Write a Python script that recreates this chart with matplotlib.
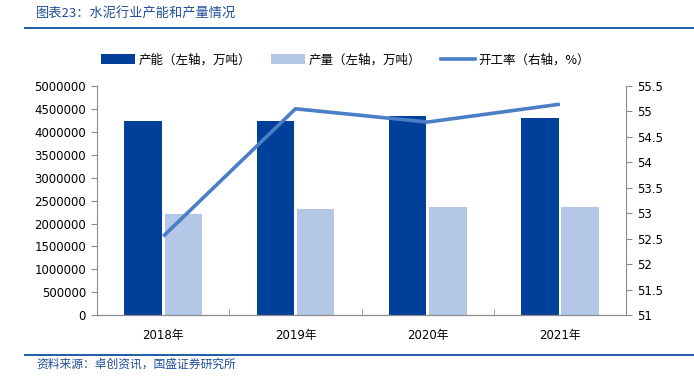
import matplotlib
matplotlib.use("Agg")
import matplotlib.pyplot as plt
from matplotlib.ticker import MultipleLocator, FuncFormatter
from matplotlib.lines import Line2D
from matplotlib.patches import Patch
import numpy as np

plt.rcParams['font.family'] = ['DejaVu Sans', 'Noto Sans CJK SC']

# data
years = ['2018年', '2019年', '2020年', '2021年']
capacity = [4240000, 4240000, 4346000, 4310000]     # 产能 (万吨)
output = [2209000, 2318000, 2368000, 2360000]       # 产量 (万吨)
utilization = [52.55, 55.05, 54.79, 55.14]          # 开工率 (%)

dark_blue = '#00409A'
light_blue = '#B4C7E7'
line_blue = '#4A7EC7'
title_blue = '#1F4E9A'
grey = '#8C8C8C'

fig = plt.figure(figsize=(6.94, 3.85), dpi=100)
ax = fig.add_axes([0.140, 0.181, 0.762, 0.596])
ax2 = ax.twinx()

x = np.arange(len(years))
w = 0.285
ax.bar(x - 0.152, capacity, width=w, color=dark_blue, zorder=2)
ax.bar(x + 0.152, output, width=w, color=light_blue, zorder=2)
ax2.plot(x, utilization, color=line_blue, lw=2.6, solid_capstyle='butt', zorder=3)

ax.set_xlim(-0.5, len(years) - 0.5)
ax.set_ylim(0, 5000000)
ax.yaxis.set_major_locator(MultipleLocator(500000))
ax.yaxis.set_major_formatter(FuncFormatter(lambda v, p: '%d' % v))
ax2.set_ylim(51, 55.5)
ax2.yaxis.set_major_locator(MultipleLocator(0.5))
ax2.yaxis.set_major_formatter(FuncFormatter(lambda v, p: '%g' % v))

ax.set_xticks(x)
ax.set_xticklabels(years)
ax.set_xticks(np.arange(0.5, len(years) - 0.5, 1), minor=True)
ax.tick_params(axis='x', which='major', length=0, pad=10, labelsize=8.5)
ax.tick_params(axis='x', which='minor', direction='in', length=4, color=grey)
ax.tick_params(axis='y', direction='out', length=4, color=grey, labelsize=8.5, pad=4)
ax2.tick_params(axis='y', direction='out', length=4, color=grey, labelsize=8.5, pad=4)

for a in (ax, ax2):
    a.spines['top'].set_visible(False)
    for s in ('left', 'right', 'bottom'):
        a.spines[s].set_color(grey)
ax2.spines['left'].set_visible(False)
ax.spines['right'].set_visible(False)

handles = [
    Patch(facecolor=dark_blue, label='产能（左轴，万吨）'),
    Patch(facecolor=light_blue, label='产量（左轴，万吨）'),
    Line2D([], [], color=line_blue, lw=2.6, label='开工率（右轴，%）'),
]
fig.legend(handles=handles, loc='center', bbox_to_anchor=(0.498, 0.845), ncol=3,
           frameon=False, handlelength=2.7, handleheight=0.8,
           columnspacing=1.6, handletextpad=0.3,
           prop={'family': ['Noto Sans CJK SC', 'DejaVu Sans'], 'size': 9})

# header and footer
fig.text(0.052, 0.962, '图表23：水泥行业产能和产量情况', color=title_blue, fontsize=9.5,
         family=['Noto Sans CJK SC', 'DejaVu Sans'], va='center')
fig.add_artist(Line2D([0.036, 1.0], [0.927, 0.927], color='#1F5AA8', lw=1.4))
fig.add_artist(Line2D([0.036, 1.0], [0.078, 0.078], color='#1F5AA8', lw=1.4))
fig.text(0.052, 0.055, '资料来源：卓创资讯，国盛证券研究所', color=title_blue, fontsize=8.5,
         family=['Noto Sans CJK SC', 'DejaVu Sans'], va='center')

fig.savefig('out.png', dpi=100)
